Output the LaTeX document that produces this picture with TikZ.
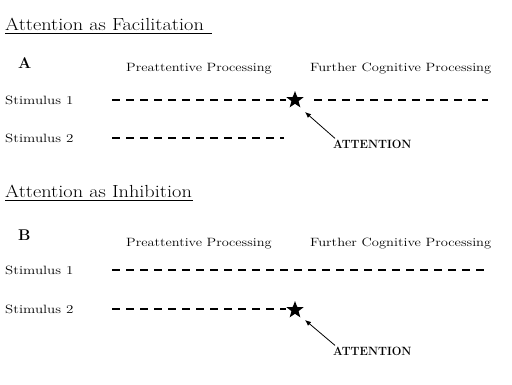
\documentclass[tikz,border=0pt]{standalone}
\usetikzlibrary{shapes.geometric,arrows.meta}
\newcommand{\wide}[2]{\scalebox{#1}[1]{#2}}
\begin{document}
\begin{tikzpicture}[x=1pt,y=-1pt,
  title/.style={anchor=base west,inner sep=0pt,font=\fontsize{17.5}{20}\selectfont},
  letter/.style={anchor=base west,inner sep=0pt,font=\fontsize{15.5}{18}\selectfont\bfseries},
  head/.style={anchor=base west,inner sep=0pt,font=\fontsize{12}{14}\selectfont},
  stim/.style={anchor=base west,inner sep=0pt,font=\fontsize{12}{14}\selectfont},
  att/.style={anchor=base west,inner sep=0pt,font=\fontsize{12}{14}\selectfont\bfseries},
  dline/.style={line width=1.8pt,dash pattern=on 8pt off 6pt},
  starnode/.style={star,star points=5,star point ratio=2.4,fill=black,inner sep=0pt,minimum size=18pt},
  attarrow/.style={line width=0.8pt,-{Latex[length=6pt,width=5pt]}}
]
\useasboundingbox (0,0) rectangle (512,384);
% ---- Panel A ----
\node[title] (tA) at (5,30) {\wide{1.16}{Attention as Facilitation}};
\draw[line width=0.8pt] (5,33) -- (212,33);
\node[letter] (A) at (18,68) {A};
\node[head] (pA) at (126,71) {\wide{1.2}{Preattentive Processing}};
\node[head] (fA) at (310,71) {\wide{1.21}{Further Cognitive Processing}};
\node[stim] (s1A) at (5,104) {\wide{1.25}{Stimulus 1}};
\node[stim] (s2A) at (5,142) {\wide{1.25}{Stimulus 2}};
\node[starnode] (starA) at (295,100) {};
\coordinate (a1s) at (112,100);
\coordinate (a1m) at (286,100);
\coordinate (a1n) at (314,100);
\coordinate (a1e) at (488,100);
\coordinate (a2s) at (112,138);
\coordinate (a2e) at (284,138);
\coordinate (tipA) at (305,112);
\draw[dline] (a1s) -- (a1m);
\draw[dline] (a1n) -- (a1e);
\draw[dline] (a2s) -- (a2e);
\node[att] (attA) at (333,148) {\wide{0.95}{ATTENTION}};
\draw[attarrow] (attA.north west) ++(2,-1) -- (tipA);
% ---- Panel B ----
\node[title] (tB) at (5,197) {\wide{1.16}{Attention as Inhibition}};
\draw[line width=0.8pt] (5,200) -- (193,200);
\node[letter] (B) at (18,240) {B};
\node[head] (pB) at (126,246) {\wide{1.2}{Preattentive Processing}};
\node[head] (fB) at (310,246) {\wide{1.21}{Further Cognitive Processing}};
\node[stim] (s1B) at (5,274) {\wide{1.25}{Stimulus 1}};
\node[stim] (s2B) at (5,313) {\wide{1.25}{Stimulus 2}};
\node[starnode] (starB) at (295,310) {};
\coordinate (b1s) at (112,270);
\coordinate (b1e) at (488,270);
\coordinate (b2s) at (112,309);
\coordinate (b2e) at (286,309);
\coordinate (tipB) at (305,320);
\draw[dline] (b1s) -- (b1e);
\draw[dline] (b2s) -- (b2e);
\node[att] (attB) at (333,355) {\wide{0.95}{ATTENTION}};
\draw[attarrow] (attB.north west) ++(2,-1) -- (tipB);
\end{tikzpicture}
\end{document}
